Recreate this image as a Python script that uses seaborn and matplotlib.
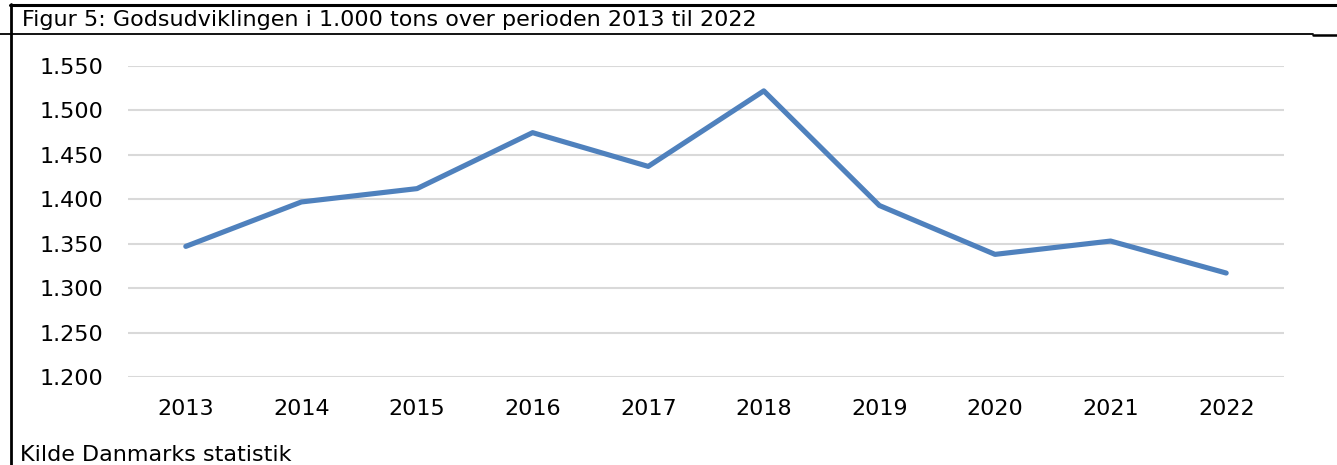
import matplotlib
matplotlib.use("Agg")
import matplotlib.pyplot as plt
from matplotlib.lines import Line2D
from matplotlib.ticker import FuncFormatter, MultipleLocator
import pandas as pd
import seaborn as sns

# Data (1.000 tons)
years = ["2013", "2014", "2015", "2016", "2017", "2018", "2019", "2020", "2021", "2022"]
tons = [1347, 1397, 1412, 1475, 1437, 1522, 1393, 1338, 1353, 1317]

title = "Figur 5: Godsudviklingen i 1.000 tons over perioden 2013 til 2022"
source = "Kilde Danmarks statistik"

sns.set_style("white")
plt.rcParams["font.family"] = ["DejaVu Sans"]
plt.rcParams["text.color"] = "black"

W, H = 1337, 465
fig = plt.figure(figsize=(W / 100, H / 100), dpi=100)
ax = fig.add_axes([128 / W, 1 - 377 / H, (1284 - 128) / W, (377 - 66) / H])

df = pd.DataFrame({"year": years, "tons": tons})
sns.lineplot(data=df, x="year", y="tons", ax=ax, color="#4F81BD",
             linewidth=3.7, sort=False)

ax.set_xlim(-0.5, len(years) - 0.5)
ax.set_ylim(1200, 1550)
ax.yaxis.set_major_locator(MultipleLocator(50))
ax.yaxis.set_major_formatter(FuncFormatter(lambda v, p: f"{v:,.0f}".replace(",", ".")))
ax.grid(axis="y", color="#D9D9D9", linewidth=1.5)
ax.set_axisbelow(True)
for s in ax.spines.values():
    s.set_visible(False)
ax.tick_params(axis="both", length=0, labelsize=16, colors="#000000")
ax.tick_params(axis="y", pad=18)
ax.tick_params(axis="x", pad=16)
ax.set_xlabel("")
ax.set_ylabel("")


# frame lines in pixel coordinates
def px_line(x0, y0, x1, y1, lw):
    fig.add_artist(Line2D([x0 / W, x1 / W], [1 - y0 / H, 1 - y1 / H],
                          transform=fig.transFigure, color="black", linewidth=lw))


px_line(10, 5, W, 5, 2.2)
px_line(0, 34.5, 1313, 34.5, 1.3)
px_line(1313, 35.5, W, 35.5, 1.8)
px_line(11, 4, 11, H, 2.0)

fig.text(22 / W, 1 - 20 / H, title, fontsize=16, va="center", ha="left", color="black")
fig.text(20 / W, 1 - 455 / H, source, fontsize=16, va="center", ha="left", color="black")

fig.savefig("out.png", dpi=100)
plt.close(fig)
